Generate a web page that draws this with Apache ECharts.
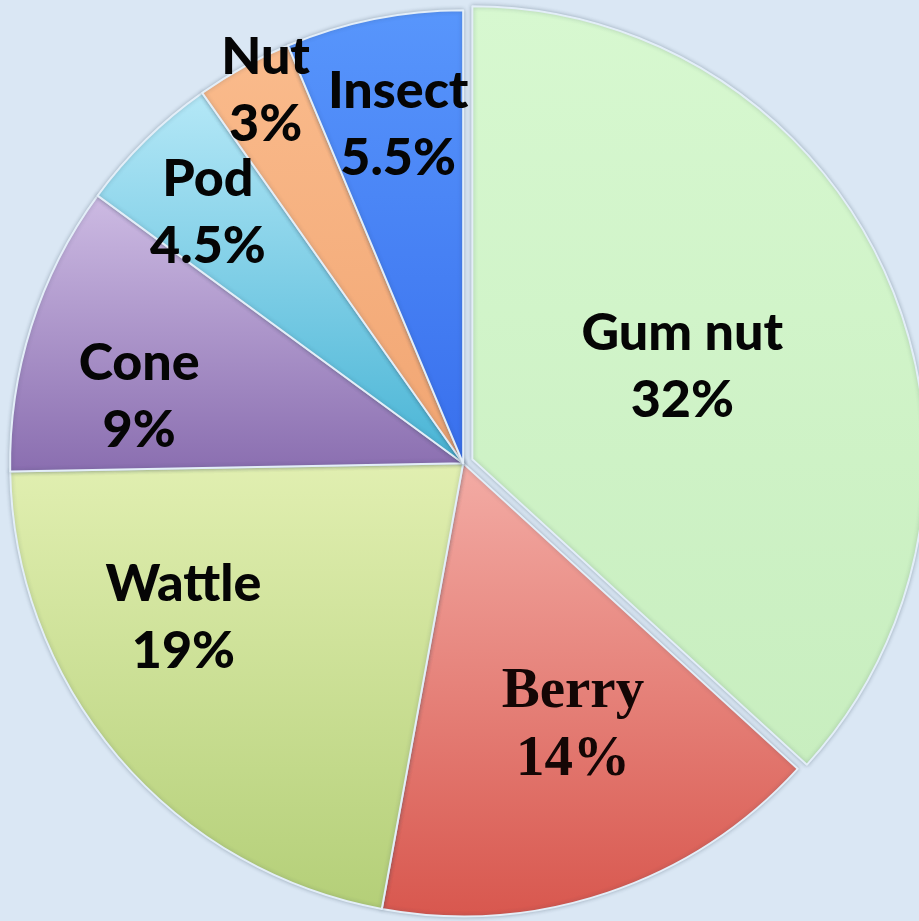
<!DOCTYPE html>
<html>
<head>
<meta charset="utf-8">
<script src="https://cdn.jsdelivr.net/npm/echarts@6/dist/echarts.min.js"></script>
<style>
  html, body { margin: 0; padding: 0; background: #dae7f4; }
  #chart { width: 919px; height: 921px; }
</style>
</head>
<body>
<div id="chart"></div>
<script>
// Diet composition (percent of feeding observations)
const categories = ['Gum nut', 'Berry', 'Wattle', 'Cone', 'Pod', 'Nut', 'Insect'];
const shares = [32, 14, 19, 9, 4.5, 3, 5.5];

// Slice fills: top colour, bottom colour
const sliceColors = [
  ['#d7f8d0', '#c8eebf'],
  ['#f3aca5', '#d8574e'],
  ['#e1efb1', '#b4cf78'],
  ['#cdbbe3', '#8a6eb0'],
  ['#b5e8f7', '#48b4d5'],
  ['#fabb8c', '#f1a572'],
  ['#5896fc', '#386fed']
];

// Label anchor: fraction of radius along the slice bisector, plus an angular nudge (deg)
const labelRadius = [0.535, 0.63, 0.705, 0.73, 0.79, 0.93, 0.76];
const labelNudge = [1.5, 4, -11.5, 6, 1, -1, -0.5];

const CENTER = [0.504, 0.503];
const RADIUS = 0.986;
const EXPLODE = 10;

const chart = echarts.init(document.getElementById('chart'), null, { renderer: 'canvas' });

function bisectors() {
  const total = shares.reduce((a, b) => a + b, 0);
  let start = 90;
  return shares.map(v => {
    const sweep = v / total * 360;
    const mid = start - sweep / 2;
    start -= sweep;
    return mid;
  });
}

const mids = bisectors();

const data = categories.map((name, i) => {
  const item = {
    name: name,
    value: shares[i],
    itemStyle: {
      color: new echarts.graphic.LinearGradient(0, 0, 0, 1, [
        { offset: 0, color: sliceColors[i][0] },
        { offset: 1, color: sliceColors[i][1] }
      ])
    }
  };
  if (i === 0) item.selected = true;
  if (name === 'Berry') {
    item.label = {
      fontFamily: '"Liberation Serif", "DejaVu Serif", serif',
      fontWeight: 'bold',
      fontSize: 57,
      lineHeight: 68,
      color: '#140605'
    };
  }
  return item;
});

chart.setOption({
  backgroundColor: '#dae7f4',
  animation: false,
  series: [{
    type: 'pie',
    center: [(CENTER[0] * 100) + '%', (CENTER[1] * 100) + '%'],
    radius: (RADIUS * 100) + '%',
    startAngle: 90,
    clockwise: true,
    selectedMode: 'single',
    selectedOffset: EXPLODE,
    avoidLabelOverlap: false,
    itemStyle: {
      borderColor: '#e3eef8',
      borderWidth: 2,
      shadowBlur: 4,
      shadowColor: 'rgba(40, 60, 80, 0.3)'
    },
    emphasis: { disabled: true },
    label: {
      show: true,
      position: 'inside',
      formatter: '{b}\n{c}%',
      fontFamily: 'Lato, "Open Sans", sans-serif',
      fontWeight: 900,
      fontSize: 52,
      lineHeight: 67,
      color: '#050505',
      align: 'center'
    },
    labelLine: { show: false },
    labelLayout: function (params) {
      const i = params.dataIndex;
      const w = chart.getWidth(), h = chart.getHeight();
      let cx = w * CENTER[0], cy = h * CENTER[1];
      const R = RADIUS * Math.min(w, h) / 2;
      const mid = mids[i];
      if (i === 0) {
        cx += EXPLODE * Math.cos(mid * Math.PI / 180);
        cy -= EXPLODE * Math.sin(mid * Math.PI / 180);
      }
      const a = (mid + labelNudge[i]) * Math.PI / 180;
      const r = labelRadius[i] * R;
      return {
        x: cx + r * Math.cos(a),
        y: cy - r * Math.sin(a),
        align: 'center',
        verticalAlign: 'middle'
      };
    },
    data: data
  }]
});
</script>
</body>
</html>
